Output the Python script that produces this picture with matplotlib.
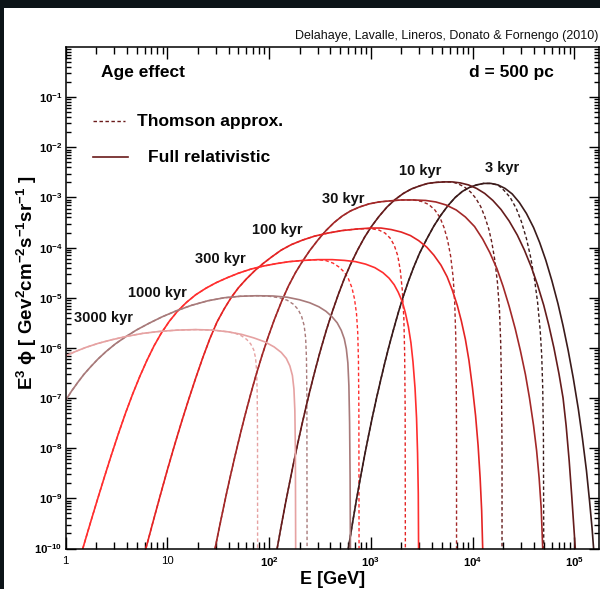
import numpy as np
import matplotlib
matplotlib.use("Agg")
import matplotlib.pyplot as plt
from matplotlib.patches import Rectangle
from matplotlib.lines import Line2D
from matplotlib.ticker import FixedLocator, FixedFormatter, LogLocator, NullFormatter

# ---- data (log10 E [GeV], log10 E^3 phi) ----
# full relativistic curves
logE_full_3 = [2.78, 2.82, 2.86, 2.90, 2.94, 2.98, 3.02, 3.06, 3.10, 3.14, 3.18, 3.22, 3.27, 3.32, 3.37,
               3.42, 3.48, 3.55, 3.62, 3.69, 3.76, 3.83, 3.90, 3.97, 4.04, 4.11, 4.18, 4.25, 4.32, 4.39,
               4.46, 4.53, 4.60, 4.66, 4.72, 4.78, 4.84, 4.89, 4.94, 4.99, 5.04, 5.08, 5.12, 5.15, 5.175, 5.19]
logF_full_3 = [-10.0, -9.50, -9.02, -8.57, -8.14, -7.73, -7.34, -6.97, -6.62, -6.28, -5.96, -5.66, -5.30, -4.97, -4.67,
               -4.40, -4.11, -3.83, -3.57, -3.35, -3.16, -3.00, -2.88, -2.80, -2.75, -2.72, -2.72, -2.75, -2.82, -2.93,
               -3.10, -3.32, -3.60, -3.90, -4.25, -4.66, -5.12, -5.56, -6.05, -6.60, -7.22, -7.80, -8.45, -9.05, -9.60, -10.0]

logE_full_10 = [2.08, 2.12, 2.16, 2.20, 2.24, 2.28, 2.32, 2.36, 2.40, 2.45, 2.50, 2.56, 2.62, 2.68, 2.74,
                2.80, 2.87, 2.94, 3.01, 3.08, 3.16, 3.24, 3.32, 3.40, 3.48, 3.56, 3.64, 3.72, 3.80, 3.88,
                3.96, 4.04, 4.12, 4.20, 4.28, 4.36, 4.44, 4.51, 4.58, 4.64, 4.70, 4.75, 4.80, 4.85, 4.89,
                4.92, 4.95, 4.975, 4.995, 5.01]
logF_full_10 = [-10.0, -9.55, -9.12, -8.71, -8.31, -7.93, -7.56, -7.21, -6.87, -6.47, -6.09, -5.67, -5.29, -4.94, -4.62,
                -4.34, -4.05, -3.79, -3.57, -3.38, -3.19, -3.04, -2.92, -2.83, -2.77, -2.72, -2.70, -2.69, -2.69, -2.71,
                -2.75, -2.82, -2.92, -3.06, -3.24, -3.47, -3.75, -4.05, -4.40, -4.75, -5.15, -5.55, -6.00, -6.52, -7.00,
                -7.55, -8.25, -8.95, -9.55, -10.0]

logE_full_30 = [1.47, 1.51, 1.55, 1.59, 1.63, 1.67, 1.72, 1.77, 1.82, 1.87, 1.93, 1.99, 2.05, 2.12, 2.19,
                2.26, 2.33, 2.40, 2.48, 2.56, 2.64, 2.72, 2.80, 2.89, 2.98, 3.08, 3.18, 3.30, 3.42, 3.54,
                3.64, 3.74, 3.84, 3.93, 4.02, 4.10, 4.17, 4.24, 4.30, 4.36, 4.42, 4.47, 4.52, 4.56, 4.60,
                4.63, 4.655, 4.675, 4.69]
logF_full_30 = [-10.0, -9.60, -9.21, -8.83, -8.47, -8.12, -7.70, -7.30, -6.92, -6.56, -6.16, -5.79, -5.45, -5.09, -4.77,
                -4.50, -4.27, -4.06, -3.85, -3.66, -3.50, -3.37, -3.27, -3.19, -3.13, -3.09, -3.07, -3.05, -3.05, -3.06,
                -3.09, -3.15, -3.25, -3.39, -3.58, -3.83, -4.10, -4.42, -4.77, -5.17, -5.62, -6.05, -6.53, -7.00, -7.55,
                -8.05, -8.60, -9.20, -10.0]

logE_full_100 = [0.79, 0.86, 0.93, 1.00, 1.07, 1.14, 1.21, 1.28, 1.35, 1.42, 1.49, 1.56, 1.63, 1.70, 1.78,
                 1.86, 1.94, 2.03, 2.12, 2.22, 2.33, 2.45, 2.58, 2.72, 2.86, 3.00, 3.10, 3.20, 3.30, 3.39,
                 3.47, 3.55, 3.62, 3.69, 3.75, 3.80, 3.85, 3.89, 3.93, 3.965, 4.00, 4.03, 4.055, 4.075, 4.09, 4.10]
logF_full_100 = [-10.0, -9.47, -8.95, -8.44, -7.95, -7.48, -7.03, -6.60, -6.19, -5.81, -5.48, -5.22, -4.99, -4.80, -4.62,
                 -4.46, -4.32, -4.18, -4.05, -3.94, -3.85, -3.77, -3.71, -3.66, -3.63, -3.61, -3.61, -3.64, -3.69, -3.76,
                 -3.86, -3.99, -4.15, -4.35, -4.58, -4.84, -5.15, -5.46, -5.83, -6.25, -6.80, -7.35, -7.95, -8.60, -9.25, -10.0]

logE_full_300 = [0.17, 0.24, 0.31, 0.38, 0.45, 0.52, 0.59, 0.66, 0.73, 0.80, 0.87, 0.94, 1.02, 1.10, 1.19,
                 1.28, 1.38, 1.48, 1.59, 1.70, 1.82, 1.94, 2.07, 2.20, 2.34, 2.48, 2.62, 2.74, 2.85, 2.95,
                 3.04, 3.12, 3.18, 3.23, 3.27, 3.31, 3.34, 3.37, 3.395, 3.415, 3.435, 3.45, 3.46, 3.467, 3.47]
logF_full_300 = [-10.0, -9.52, -9.05, -8.59, -8.14, -7.71, -7.30, -6.92, -6.57, -6.25, -5.96, -5.71, -5.47, -5.27, -5.09,
                 -4.94, -4.81, -4.70, -4.60, -4.51, -4.43, -4.37, -4.32, -4.28, -4.255, -4.24, -4.24, -4.255, -4.28, -4.33,
                 -4.40, -4.50, -4.61, -4.74, -4.89, -5.08, -5.30, -5.58, -5.90, -6.28, -6.80, -7.40, -8.10, -8.90, -10.0]

logE_full_1000 = [0.00, 0.06, 0.12, 0.18, 0.25, 0.32, 0.40, 0.49, 0.59, 0.70, 0.82, 0.95, 1.09, 1.24, 1.40,
                  1.56, 1.72, 1.88, 2.04, 2.18, 2.30, 2.40, 2.49, 2.56, 2.62, 2.67, 2.71, 2.74, 2.76, 2.775,
                  2.785, 2.792, 2.797, 2.80]
logF_full_1000 = [-7.05, -6.86, -6.69, -6.53, -6.37, -6.22, -6.07, -5.92, -5.78, -5.64, -5.51, -5.38, -5.26, -5.15, -5.06,
                  -5.00, -4.97, -4.96, -4.965, -4.99, -5.04, -5.10, -5.18, -5.27, -5.38, -5.50, -5.65, -5.82, -6.02, -6.30,
                  -6.75, -7.50, -8.60, -10.0]

logE_full_3000 = [0.00, 0.10, 0.20, 0.32, 0.45, 0.60, 0.76, 0.93, 1.10, 1.28, 1.45, 1.60, 1.73, 1.85, 1.96,
                  2.05, 2.12, 2.17, 2.205, 2.23, 2.245, 2.254, 2.259, 2.262]
logF_full_3000 = [-6.16, -6.07, -5.99, -5.91, -5.84, -5.77, -5.71, -5.67, -5.645, -5.635, -5.645, -5.68, -5.73, -5.80, -5.88,
                  -5.98, -6.09, -6.21, -6.36, -6.55, -6.82, -7.25, -8.00, -10.0]

# Thomson approximation: identical at low energy, then a sharp cutoff
logE_thom_3 = logE_full_3[:28] + [4.31, 4.37, 4.43, 4.48, 4.53, 4.57, 4.61, 4.64, 4.665, 4.68, 4.69, 4.697, 4.70]
logF_thom_3 = logF_full_3[:28] + [-2.86, -3.00, -3.22, -3.48, -3.82, -4.18, -4.64, -5.10, -5.65, -6.15, -6.80, -7.80, -10.0]

logE_thom_10 = logE_full_10[:29] + [3.86, 3.92, 3.98, 4.03, 4.08, 4.12, 4.16, 4.19, 4.22, 4.245, 4.265, 4.277, 4.285, 4.29, 4.29]
logF_thom_10 = logF_full_10[:29] + [-2.73, -2.79, -2.89, -3.01, -3.18, -3.38, -3.63, -3.90, -4.26, -4.70, -5.25, -5.90, -6.80, -8.00, -10.0]

logE_thom_30 = logE_full_30[:29] + [3.50, 3.57, 3.63, 3.68, 3.72, 3.755, 3.785, 3.81, 3.825, 3.835, 3.84, 3.843, 3.843]
logF_thom_30 = logF_full_30[:29] + [-3.08, -3.14, -3.25, -3.40, -3.60, -3.85, -4.17, -4.60, -5.10, -5.75, -6.60, -7.80, -10.0]

logE_thom_100 = logE_full_100[:25] + [3.00, 3.08, 3.14, 3.19, 3.23, 3.265, 3.29, 3.31, 3.325, 3.333, 3.338, 3.34]
logF_thom_100 = logF_full_100[:25] + [-3.62, -3.65, -3.71, -3.81, -3.95, -4.16, -4.45, -4.85, -5.40, -6.10, -7.20, -10.0]

logE_thom_300 = logE_full_300[:26] + [2.56, 2.63, 2.69, 2.74, 2.78, 2.815, 2.84, 2.86, 2.872, 2.879, 2.883, 2.885]
logF_thom_300 = logF_full_300[:26] + [-4.26, -4.31, -4.39, -4.49, -4.62, -4.80, -5.02, -5.32, -5.70, -6.25, -7.20, -10.0]

logE_thom_1000 = logE_full_1000[:18] + [2.00, 2.10, 2.18, 2.24, 2.285, 2.32, 2.345, 2.36, 2.368, 2.372, 2.374]
logF_thom_1000 = logF_full_1000[:18] + [-4.97, -5.00, -5.05, -5.13, -5.23, -5.37, -5.55, -5.80, -6.20, -6.90, -10.0]

logE_thom_3000 = logE_full_3000[:12] + [1.67, 1.73, 1.78, 1.82, 1.85, 1.868, 1.878, 1.884, 1.887, 1.888]
logF_thom_3000 = logF_full_3000[:12] + [-5.71, -5.76, -5.83, -5.92, -6.04, -6.20, -6.45, -6.90, -7.70, -10.0]

ages = ['3 kyr', '10 kyr', '30 kyr', '100 kyr', '300 kyr', '1000 kyr', '3000 kyr']
colors = ['#3b1b1b', '#651c1c', '#a22828', '#e42424', '#ff2e2e', '#a87a7a', '#e6a2a2']
# label anchor points (log10 E, log10 E^3 phi)
label_logE = [4.29, 3.49, 2.73, 2.08, 1.52, 0.90, 0.37]
label_logF = [-2.41, -2.47, -3.03, -3.65, -4.22, -4.90, -5.40]

x_major = [1, 10, 1e2, 1e3, 1e4, 1e5]
x_major_labels = ['1', '10', '$10^{2}$', '$10^{3}$', '$10^{4}$', '$10^{5}$']
y_major = [10.0 ** k for k in range(-10, 0)]
y_major_labels = ['$10^{%d}$' % k for k in range(-10, 0)]
x_min, x_max = 1, 1.75e5
y_min, y_max = 1e-10, 1

full_curves = [(logE_full_3, logF_full_3), (logE_full_10, logF_full_10), (logE_full_30, logF_full_30),
               (logE_full_100, logF_full_100), (logE_full_300, logF_full_300),
               (logE_full_1000, logF_full_1000), (logE_full_3000, logF_full_3000)]
thom_curves = [(logE_thom_3, logF_thom_3), (logE_thom_10, logF_thom_10), (logE_thom_30, logF_thom_30),
               (logE_thom_100, logF_thom_100), (logE_thom_300, logF_thom_300),
               (logE_thom_1000, logF_thom_1000), (logE_thom_3000, logF_thom_3000)]

# ---- style ----
plt.rcParams['font.family'] = ['Liberation Sans', 'DejaVu Sans']
plt.rcParams['mathtext.fontset'] = 'custom'
plt.rcParams['mathtext.rm'] = 'Liberation Sans:bold'
plt.rcParams['mathtext.it'] = 'Liberation Sans:bold:italic'
plt.rcParams['mathtext.bf'] = 'Liberation Sans:bold'
plt.rcParams['mathtext.default'] = 'rm'

W, H = 600, 589
PX = 0.72  # points per pixel at 100 dpi


def fx(x):
    return x / W


def fy(y):
    return 1 - y / H


fig = plt.figure(figsize=(6.0, 5.89), dpi=100, facecolor='#0c1418')
fig.add_artist(Rectangle((fx(4), 0), 1 - fx(4), fy(8), transform=fig.transFigure,
                         facecolor='white', edgecolor='none', zorder=-5))

ax = fig.add_axes([fx(65.5), fy(548.5), fx(599) - fx(65.5), fy(47) - fy(548.5)])
ax.set_xscale('log')
ax.set_yscale('log')

for (le, lf), col in zip(thom_curves, colors):
    ax.plot(10 ** np.array(le), 10 ** np.array(lf), color=col, lw=1.0, ls=(0, (2.5, 1.8)),
            dash_joinstyle='round')
for (le, lf), col in zip(full_curves, colors):
    ax.plot(10 ** np.array(le), 10 ** np.array(lf), color=col, lw=1.2, solid_joinstyle='round')

for name, le, lf in zip(ages, label_logE, label_logF):
    ax.text(10 ** le, 10 ** lf, name, ha='center', va='center', fontsize=10.5,
            fontweight='bold', color='#111111')

ax.set_xlim(x_min, x_max)
ax.set_ylim(y_min, y_max)

ax.xaxis.set_major_locator(FixedLocator(x_major))
ax.xaxis.set_major_formatter(FixedFormatter(x_major_labels))
ax.xaxis.set_minor_locator(LogLocator(base=10, subs=np.arange(2, 10), numticks=20))
ax.xaxis.set_minor_formatter(NullFormatter())
ax.yaxis.set_major_locator(FixedLocator(y_major))
ax.yaxis.set_major_formatter(FixedFormatter(y_major_labels))
ax.yaxis.set_minor_locator(LogLocator(base=10, subs=np.arange(2, 10), numticks=20))
ax.yaxis.set_minor_formatter(NullFormatter())

ax.tick_params(which='both', direction='in', top=True, right=True, width=1.0, colors='black')
ax.tick_params(axis='x', which='major', length=12 * PX, pad=7 * PX, labelsize=8.2)
ax.tick_params(axis='x', which='minor', length=7 * PX)
ax.tick_params(axis='y', which='major', length=10 * PX, pad=3 * PX, labelsize=8.2)
ax.tick_params(axis='y', which='minor', length=5 * PX)
for sp in ax.spines.values():
    sp.set_linewidth(1.1)

ax.set_xlabel('E [GeV]', fontsize=13, fontweight='bold', labelpad=1)
ax.set_ylabel(r'E$^{3}$ $\phi$ [ Gev$^{2}$cm$^{-2}$s$^{-1}$sr$^{-1}$ ]', fontsize=13.5,
              fontweight='bold')
ax.yaxis.set_label_coords(-0.05, 0.53)

# header texts
fig.text(fx(598), fy(36.5), 'Delahaye, Lavalle, Lineros, Donato & Fornengo (2010)',
         ha='right', va='center', fontsize=9, color='#111111')
fig.text(fx(101), fy(73), 'Age effect', ha='left', va='center', fontsize=12.5, fontweight='bold')
fig.text(fx(554), fy(73), 'd = 500 pc', ha='right', va='center', fontsize=12.5, fontweight='bold')

# legend drawn by hand
leg_col = '#6a1a1a'
fig.add_artist(Line2D([fx(93), fx(125)], [fy(121), fy(121)], transform=fig.transFigure,
                      color=leg_col, lw=1.0, ls=(0, (2.5, 1.8))))
fig.add_artist(Line2D([fx(93), fx(128)], [fy(157), fy(157)], transform=fig.transFigure,
                      color=leg_col, lw=1.2))
fig.text(fx(137), fy(121), 'Thomson approx.', ha='left', va='center', fontsize=12.5, fontweight='bold')
fig.text(fx(148), fy(157), 'Full relativistic', ha='left', va='center', fontsize=12.5, fontweight='bold')

fig.savefig('out.png', dpi=100, facecolor=fig.get_facecolor())
